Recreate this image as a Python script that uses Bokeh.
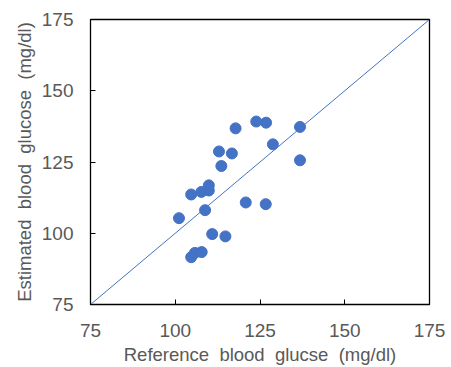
from bokeh.plotting import figure
from bokeh.models import FixedTicker, Range1d
from bokeh.embed import file_html
from bokeh.resources import INLINE

reference = [101.1, 104.7, 107.7, 109.9, 109.9, 108.8, 112.9, 113.6, 116.7, 117.8,
             123.9, 126.8, 128.8, 136.8, 136.8, 120.8, 126.7, 110.9, 114.8, 104.7,
             105.8, 107.8]
estimated = [105.3, 113.6, 114.5, 116.8, 115.0, 108.1, 128.7, 123.6, 128.0, 136.8,
             139.2, 138.8, 131.2, 137.3, 125.6, 110.8, 110.2, 99.7, 98.9, 91.6,
             93.1, 93.4]
identity = [75, 175]
ticks = [75, 100, 125, 150, 175]

p = figure(width=451, height=367, output_backend="svg", toolbar_location=None,
           x_range=Range1d(75, 175), y_range=Range1d(75, 175),
           min_border_left=90, min_border_right=22, min_border_top=19, min_border_bottom=63)

p.line(identity, identity, line_color="#4472C4", line_width=1)
p.scatter(reference, estimated, size=11, fill_color="#4472C4", line_color="#4472C4")

p.xgrid.visible = False
p.ygrid.visible = False
p.outline_line_color = "black"
p.outline_line_width = 1.3

for ax in (p.xaxis[0], p.yaxis[0]):
    ax.ticker = FixedTicker(ticks=ticks)
    ax.minor_tick_line_color = None
    ax.major_tick_in = 5
    ax.major_tick_out = 0
    ax.major_tick_line_color = "black"
    ax.axis_line_color = "black"
    ax.major_label_text_font = "Liberation Sans"
    ax.major_label_text_font_size = "19px"
    ax.major_label_text_color = "#595959"
    ax.axis_label_text_font = "Liberation Sans"
    ax.axis_label_text_font_size = "18.5px"
    ax.axis_label_text_font_style = "normal"
    ax.axis_label_text_color = "#595959"

p.xaxis.axis_label = "Reference\u00a0 blood\u00a0 glucse\u00a0 (mg/dl)"
p.yaxis.axis_label = "Estimated\u00a0 blood\u00a0 glucose\u00a0 (mg/dl)"
p.xaxis.major_label_standoff = 19
p.yaxis.major_label_standoff = 17
p.xaxis.axis_label_standoff = 4
p.yaxis.axis_label_standoff = 4

open("out.html", "w").write(file_html(p, INLINE))
